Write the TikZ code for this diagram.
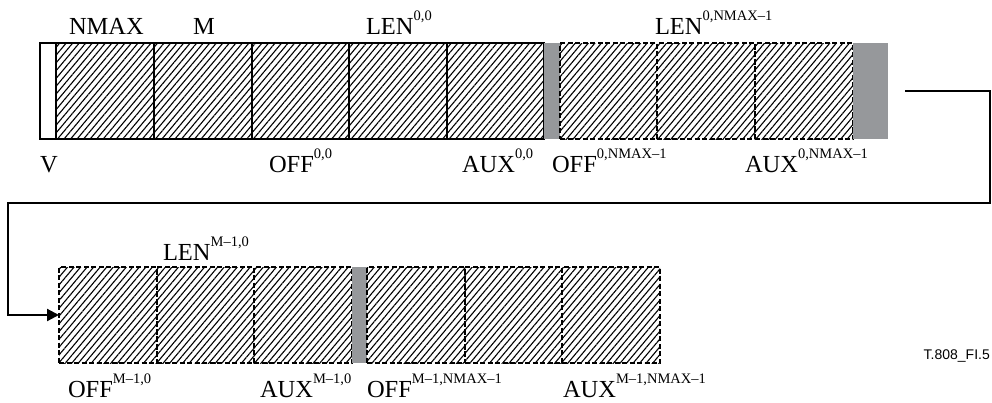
\documentclass[tikz,border=0pt]{standalone}
\usepackage{fontspec}
\setmainfont{Liberation Serif}
\newfontfamily\labsans{Liberation Sans}
\usetikzlibrary{patterns.meta,arrows.meta}
\definecolor{bargray}{RGB}{150,152,155}
\newcommand\supx[1]{\raisebox{14pt}{\fontsize{14.5}{14.5}\selectfont #1}}
\begin{document}
\begin{tikzpicture}[x=1pt,y=-1pt,
  cellbase/.style={rectangle, anchor=north west, inner sep=0pt, outer sep=0pt,
    minimum height=96pt, line width=1.4pt,
    pattern={Lines[angle=50,distance=5pt,line width=1.1pt]}},
  solidcell/.style={cellbase, draw=black},
  dashcell/.style={cellbase, draw=black, dash pattern=on 5pt off 2.5pt},
  vcell/.style={rectangle, anchor=north west, inner sep=0pt, outer sep=0pt,
    minimum height=96pt, minimum width=16pt, draw=black, fill=white, line width=1.3pt},
  graybar/.style={rectangle, anchor=north west, inner sep=0pt, outer sep=0pt,
    minimum height=96pt, fill=bargray},
  lab/.style={anchor=base west, inner sep=0pt, outer sep=0pt,
    font=\fontsize{24.5}{24.5}\selectfont},
  conn/.style={line width=2.2pt, line join=miter},
]
\useasboundingbox (0,0) rectangle (992,402);
% top row
\node[vcell] (v) at (40,43) {};
\node[solidcell, minimum width=98pt] (t1) at (56,43) {};
\node[solidcell, minimum width=98pt] (t2) at (154,43) {};
\node[solidcell, minimum width=97pt] (t3) at (252,43) {};
\node[solidcell, minimum width=98pt] (t4) at (349,43) {};
\node[solidcell, minimum width=97pt] (t5) at (447,43) {};
\node[graybar, minimum width=16pt] (g1) at (544,43) {};
\node[dashcell, minimum width=97pt] (t6) at (560,43) {};
\node[dashcell, minimum width=98pt] (t7) at (657,43) {};
\node[dashcell, minimum width=98pt] (t8) at (755,43) {};
\node[graybar, minimum width=35pt] (g2) at (853,43) {};
% bottom row
\node[dashcell, minimum width=98pt] (b1) at (59,267) {};
\node[dashcell, minimum width=97pt] (b2) at (157,267) {};
\node[dashcell, minimum width=98pt] (b3) at (254,267) {};
\node[graybar, minimum width=15pt] (g3) at (352,267) {};
\node[dashcell, minimum width=98pt] (b4) at (367,267) {};
\node[dashcell, minimum width=97pt] (b5) at (465,267) {};
\node[dashcell, minimum width=98pt] (b6) at (562,267) {};
% connector
\coordinate (cstart) at (905,91);
\draw[conn, -{Triangle[length=12pt,width=12pt]}] (cstart) -- (990,91) -- (990,203) -- (8,203) -- (8,315) -- (b1.west);
% labels top
\node[lab] (lnmax) at (69,34) {NMAX};
\node[lab] (lm) at (193,34) {M};
\node[lab] (llen00) at (366,34) {LEN\supx{0,0}};
\node[lab] (llen0n) at (655,34) {LEN\supx{0,NMAX\textendash 1}};
% labels middle
\node[lab] (lv) at (40,172) {V};
\node[lab] (loff00) at (269,172) {OFF\supx{0,0}};
\node[lab] (laux00) at (462,172) {AUX\supx{0,0}};
\node[lab] (loff0n) at (552,172) {OFF\supx{0,NMAX\textendash 1}};
\node[lab] (laux0n) at (745,172) {AUX\supx{0,NMAX\textendash 1}};
% labels bottom
\node[lab] (llenm0) at (163,260) {LEN\supx{M\textendash 1,0}};
\node[lab] (loffm0) at (68,397) {OFF\supx{M\textendash 1,0}};
\node[lab] (lauxm0) at (260,397) {AUX\supx{M\textendash 1,0}};
\node[lab] (loffmn) at (367,397) {OFF\supx{M\textendash 1,NMAX\textendash 1}};
\node[lab] (lauxmn) at (563,397) {AUX\supx{M\textendash 1,NMAX\textendash 1}};
% figure id
\node[anchor=base east, inner sep=0pt, font=\labsans\fontsize{14}{14}\selectfont] (figid) at (990,359) {T.808\_FI.5};
\end{tikzpicture}
\end{document}
